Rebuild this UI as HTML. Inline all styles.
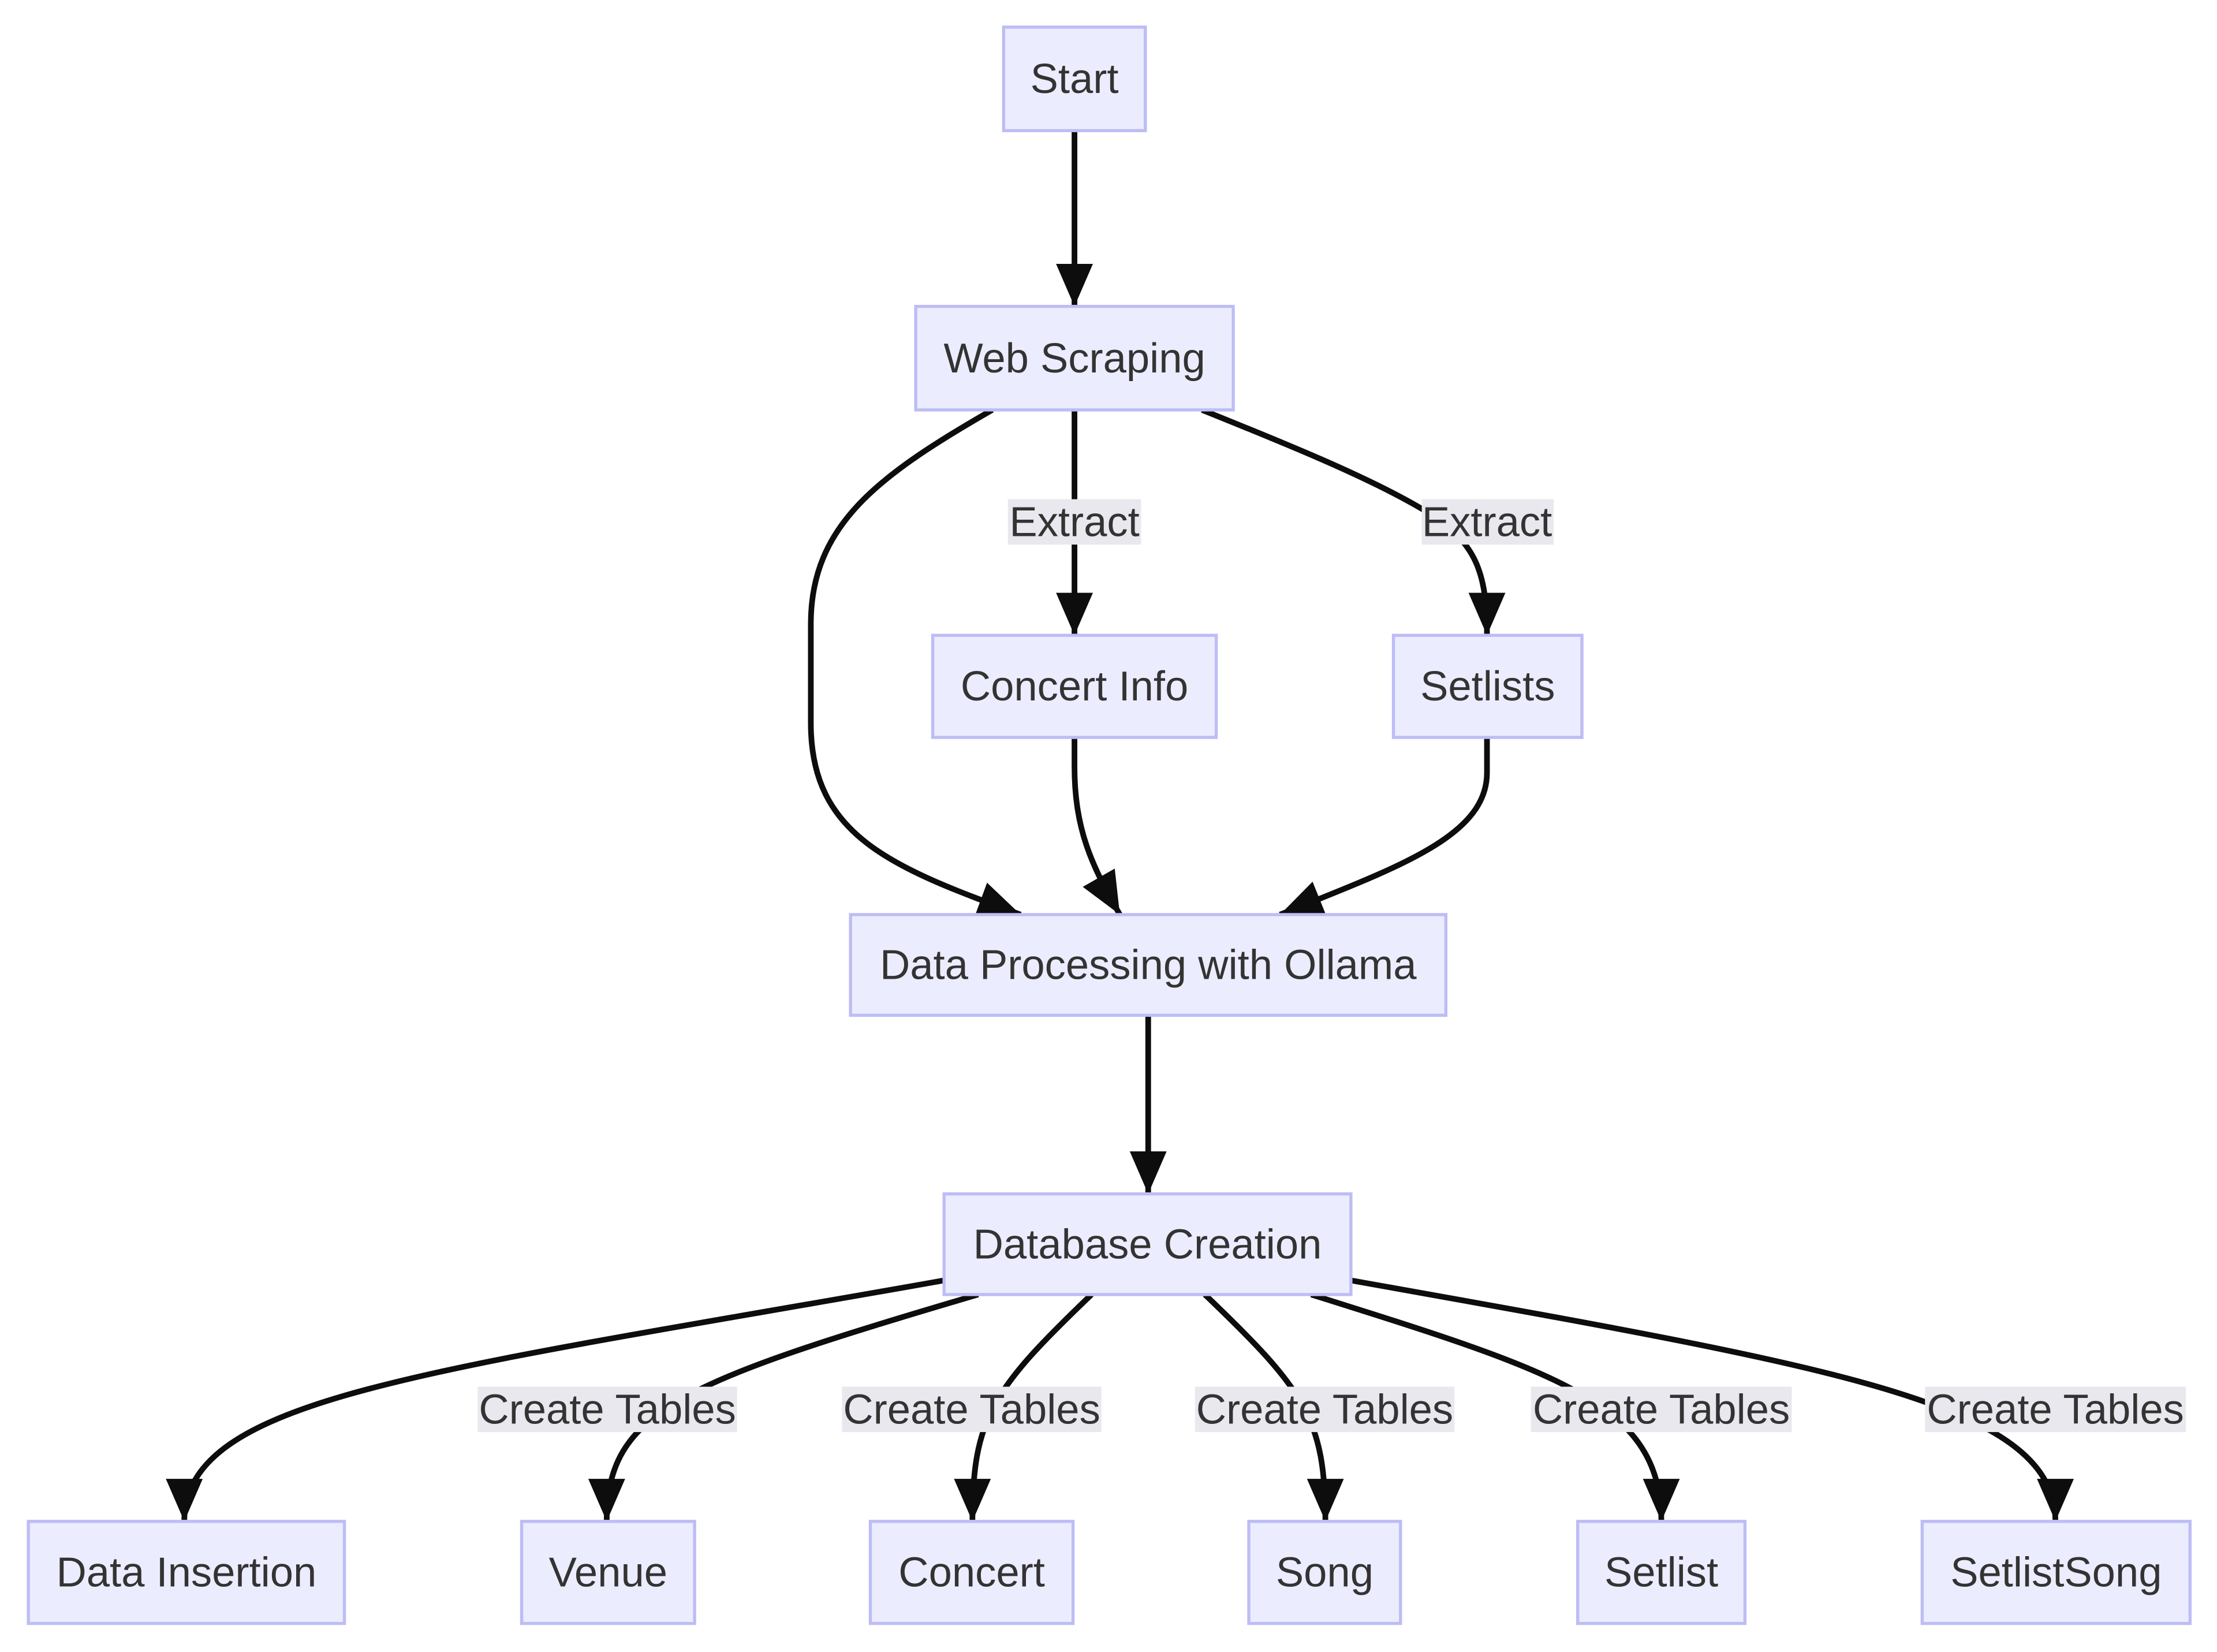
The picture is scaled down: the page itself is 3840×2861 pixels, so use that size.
<!DOCTYPE html>
<html><head><meta charset="utf-8"><style>
html,body{margin:0;padding:0;background:#fff;}
svg{display:block;}
text{font-family:"Liberation Sans",Arial,sans-serif;fill:#333;font-size:29.5px;text-anchor:middle;dominant-baseline:central;}
.n{fill:#ECECFF;stroke:#BDBDF5;stroke-width:2.2;}
.e{fill:none;stroke:#0d0d0d;stroke-width:4;}
.l{fill:#E8E8EE;}
</style></head><body>
<svg width="3840" height="2861" viewBox="0 0 1564 1165" xmlns="http://www.w3.org/2000/svg">
<defs>
<marker id="a" markerUnits="userSpaceOnUse" markerWidth="32" markerHeight="28" refX="30" refY="13" orient="auto" viewBox="0 0 32 28">
<path d="M0,0 L30,13 L0,26 z" fill="#0d0d0d"/>
</marker>
</defs>
<!-- edges -->
<path class="e" marker-end="url(#a)" d="M758,92 L758,216"/>
<path class="e" marker-end="url(#a)" d="M758,289 L758,448"/>
<path class="e" marker-end="url(#a)" d="M848,289 C900,310 960,334 1000,357 C1040,380 1049,400 1049,448"/>
<path class="e" marker-end="url(#a)" d="M700,289 C620,335 572,370 572,440 L572,510 C572,590 630,612 720,645"/>
<path class="e" marker-end="url(#a)" d="M758,520 L758,540 C758,585 770,610 790,645"/>
<path class="e" marker-end="url(#a)" d="M1049,520 L1049,545 C1049,590 985,612 903,645"/>
<path class="e" marker-end="url(#a)" d="M810,716 L810,842"/>
<path class="e" marker-end="url(#a)" d="M666,903 C300,968 130,985 130,1073"/>
<path class="e" marker-end="url(#a)" d="M690,913 C480,975 428,995 428,1073"/>
<path class="e" marker-end="url(#a)" d="M770,913 C700,980 686,1000 686,1073"/>
<path class="e" marker-end="url(#a)" d="M850,913 C920,980 935,1000 935,1073"/>
<path class="e" marker-end="url(#a)" d="M925,913 C1100,968 1172,990 1172,1073"/>
<path class="e" marker-end="url(#a)" d="M953,903 C1300,965 1450,990 1450,1073"/>
<!-- edge labels -->
<rect class="l" x="711" y="352" width="94" height="32"/><text x="758" y="368">Extract</text>
<rect class="l" x="1003" y="352" width="93" height="32"/><text x="1049" y="368">Extract</text>
<rect class="l" x="337" y="978" width="183" height="32"/><text x="428.5" y="994">Create Tables</text>
<rect class="l" x="594" y="978" width="183" height="32"/><text x="685.5" y="994">Create Tables</text>
<rect class="l" x="843" y="978" width="183" height="32"/><text x="934.5" y="994">Create Tables</text>
<rect class="l" x="1080" y="978" width="184" height="32"/><text x="1172" y="994">Create Tables</text>
<rect class="l" x="1358" y="978" width="184" height="32"/><text x="1450" y="994">Create Tables</text>
<!-- nodes -->
<rect class="n" x="708" y="19" width="100" height="73"/><text x="758" y="55.5">Start</text>
<rect class="n" x="646" y="216" width="224" height="73"/><text x="758" y="252.5">Web Scraping</text>
<rect class="n" x="658" y="448" width="200" height="72"/><text x="758" y="484">Concert Info</text>
<rect class="n" x="983" y="448" width="133" height="72"/><text x="1049.5" y="484">Setlists</text>
<rect class="n" x="600" y="645" width="420" height="71"/><text x="810" y="680.5">Data Processing with Ollama</text>
<rect class="n" x="666" y="842" width="287" height="71"/><text x="809.5" y="877.5">Database Creation</text>
<rect class="n" x="20" y="1073" width="223" height="72"/><text x="131.5" y="1109">Data Insertion</text>
<rect class="n" x="368" y="1073" width="122" height="72"/><text x="429" y="1109">Venue</text>
<rect class="n" x="614" y="1073" width="143" height="72"/><text x="685.5" y="1109">Concert</text>
<rect class="n" x="881" y="1073" width="107" height="72"/><text x="934.5" y="1109">Song</text>
<rect class="n" x="1113" y="1073" width="118" height="72"/><text x="1172" y="1109">Setlist</text>
<rect class="n" x="1356" y="1073" width="189" height="72"/><text x="1450.5" y="1109">SetlistSong</text>
</svg>
</body></html>
